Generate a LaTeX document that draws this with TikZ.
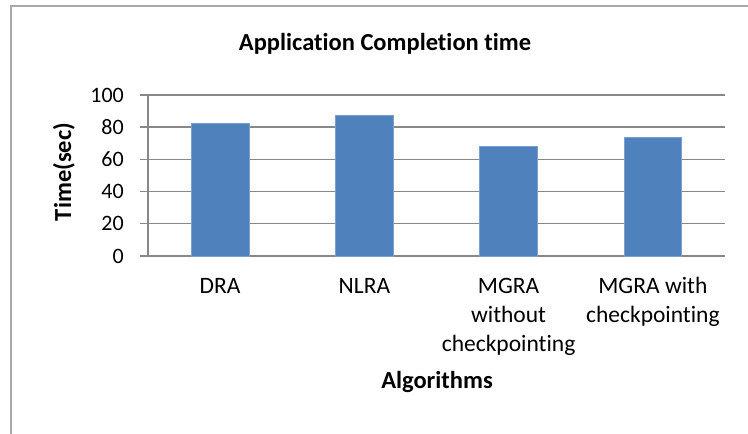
\documentclass[tikz,border=0pt]{standalone}
\usepackage{fontspec}
\setmainfont[Ligatures=NoCommon]{Carlito}
\usetikzlibrary{positioning}
\definecolor{chbar}{RGB}{79,129,189}
\definecolor{chgrid}{RGB}{136,136,136}
\definecolor{chframe}{RGB}{168,168,168}
\tikzset{
  gridln/.style={draw=chgrid, line width=1.4pt},
  barbox/.style={fill=chbar, draw=chbar!75!white, line width=0.8pt},
  ticklbl/.style={font=\fontsize{22}{26}\selectfont, anchor=east, inner sep=0pt},
  catlbl/.style={font=\fontsize{23.5}{29}\selectfont, align=center, anchor=base, inner sep=0pt},
  ttl/.style={font=\bfseries\fontsize{24.5}{29}\selectfont, inner sep=0pt, anchor=base},
  frame/.style={draw=chframe, line width=2pt}
}

\begin{document}
\begin{tikzpicture}[x=1pt, y=1pt]
  \useasboundingbox (0,0) rectangle (748,434);
  \draw[frame] (11,0) -- (11,428) -- (748,428);
  % grid and value axis
  \foreach \v in {0,20,...,100} {
    \draw[gridln] (140,178+1.61*\v) -- (725,178+1.61*\v);
    \node[ticklbl] (y\v) at (124,178+1.61*\v) {\v};
  }
  \draw[gridln] (148,178) -- (148,339);
  % bars
  \foreach \h [count=\i] in {82.5,87.5,68,73.5}
    \path[barbox] (148+144.25*\i-72.1-28.85,178) rectangle (148+144.25*\i-72.1+28.85,178+1.61*\h);
  % category labels (base = last line)
  \node[catlbl] (c1) at (220.1,140) {DRA};
  \node[catlbl] (c2) at (364.4,140) {NLRA};
  \node[catlbl] (c3) at (508.6,82) {MGRA\\without\\checkpointing};
  \node[catlbl] (c4) at (652.9,111) {MGRA with\\checkpointing};
  % titles
  \node[ttl] (title) at (385,383) {Application Completion time};
  \node[ttl] (xlab) at (437,45) {Algorithms};
  \node[ttl, rotate=90] (ylab) at (71,262) {Time(sec)};
\end{tikzpicture}
\end{document}
